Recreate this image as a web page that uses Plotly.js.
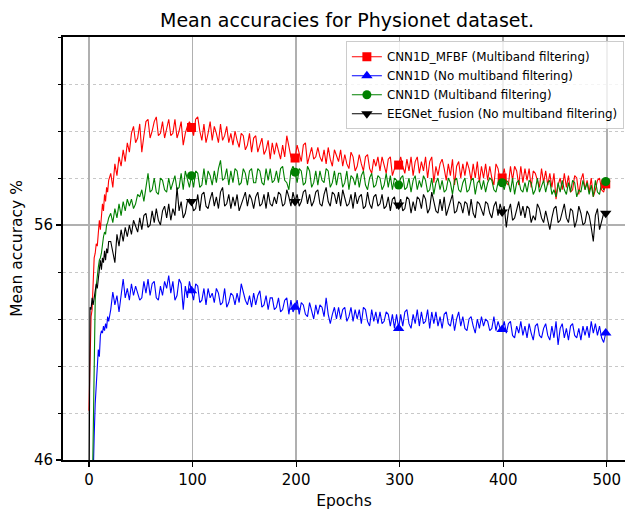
<!DOCTYPE html>
<html>
<head>
<meta charset="utf-8">
<script src="https://cdn.plot.ly/plotly-3.0.1.min.js"></script>
<style>
html,body{margin:0;padding:0;background:#fff;}
#chart{width:625px;height:510px;}
</style>
</head>
<body>
<div id="chart"></div>
<script>
// Epochs: every epoch for 0-19, then every second epoch 21..499
const epochs = [];
for (let e = 0; e < 20; e++) epochs.push(e);
for (let e = 21; e < 500; e += 2) epochs.push(e);

const markerEpochs = [99, 199, 299, 399, 499];

const seriesNames = [
  "CNN1D_MFBF (Multiband filtering)",
  "CNN1D (No multiband filtering)",
  "CNN1D (Multiband filtering)",
  "EEGNet_fusion (No multiband filtering)"
];

const cnn1dMfbf = [
  48.1, 50.6, 52.1, 52.4, 53.6, 54.6, 54.8, 55.2, 55.1, 55.8, 56.2, 55.8, 56.6, 56.9, 56.6, 57.3, 57.0, 57.6, 57.4, 57.9,
  58.2, 57.6, 58.6, 58.1, 58.9, 58.5, 59.2, 58.7, 59.5, 59.1,
  59.9, 60.2, 59.5, 59.7, 60.3, 59.1, 59.8, 60.4, 60.5, 59.7,
  60.0, 60.4, 60.6, 59.8, 59.9, 60.4, 59.7, 60.1, 60.5, 59.8,
  59.9, 60.5, 59.7, 60.0, 60.4, 59.4, 59.9, 60.2, 60.4, 60.15,
  59.8, 60.5, 60.6, 60.0, 59.6, 60.3, 59.5, 59.9, 60.4, 59.6,
  60.2, 59.9, 59.5, 60.3, 59.6, 59.8, 60.2, 59.5, 59.9, 59.4,
  60.0, 59.6, 59.3, 59.9, 59.8, 59.2, 59.4, 59.9, 59.1, 59.7,
  59.8, 59.1, 59.4, 59.7, 59.0, 59.2, 59.6, 58.8, 59.5, 59.0,
  59.5, 59.2, 58.8, 59.4, 58.9, 59.8, 59.3, 58.9, 58.7, 58.85,
  59.4, 59.0, 58.7, 59.4, 59.5, 58.6, 59.0, 59.3, 58.8, 58.9,
  59.3, 58.9, 58.7, 59.2, 58.6, 59.3, 58.8, 58.5, 59.2, 58.9,
  58.7, 59.2, 58.5, 59.0, 58.6, 58.4, 59.1, 58.9, 58.3, 58.5,
  59.0, 58.6, 58.3, 58.9, 59.0, 58.4, 58.2, 58.8, 58.5, 58.9,
  58.3, 58.9, 58.6, 58.2, 58.8, 58.9, 58.1, 58.4, 58.7, 58.55,
  58.9, 58.5, 58.2, 58.8, 58.3, 58.9, 58.1, 58.7, 58.9, 58.2,
  58.7, 58.3, 58.9, 58.0, 58.7, 58.9, 57.8, 58.5, 58.1, 58.6,
  58.8, 58.4, 57.9, 58.6, 58.1, 58.8, 57.7, 58.5, 58.7, 58.0,
  58.6, 58.1, 58.7, 58.4, 57.9, 58.6, 58.0, 58.7, 57.8, 58.5,
  58.0, 58.6, 57.9, 58.5, 58.0, 57.7, 58.6, 58.4, 57.9, 58.0,
  58.4, 57.8, 57.7, 58.5, 57.9, 58.5, 58.3, 57.7, 58.5, 57.8,
  58.4, 57.9, 58.4, 57.6, 58.3, 58.2, 57.9, 57.6, 58.4, 57.8,
  58.3, 57.7, 58.2, 57.6, 58.2, 57.1, 57.7, 58.0, 57.5, 58.2,
  57.6, 58.1, 57.4, 57.5, 58.1, 58.0, 57.3, 57.9, 58.2, 57.5,
  57.9, 57.4, 58.0, 57.2, 57.5, 57.9, 58.0, 57.5, 57.4, 57.75
];

const cnn1dNoMbf = [
  38.0, 40.0, 42.0, 44.0, 45.5, 47.0, 48.4, 49.3, 50.2, 50.7, 50.4, 51.3, 51.5, 51.4, 51.7, 51.5, 51.8, 51.6, 52.1, 51.9,
  52.4, 53.15, 52.6, 53.0, 52.3, 53.1, 53.7, 52.9, 53.3, 52.8,
  53.5, 53.0, 53.4, 53.1, 52.8, 52.9, 53.6, 53.1, 53.7, 53.0,
  53.5, 53.6, 52.9, 52.8, 53.4, 53.0, 53.6, 53.3, 53.85, 53.1,
  53.6, 52.8, 53.0, 53.7, 53.5, 52.4, 53.4, 52.9, 53.6, 53.2,
  52.8, 53.5, 53.4, 52.7, 52.8, 53.3, 52.6, 53.3, 52.9, 53.1,
  52.7, 53.3, 53.1, 52.6, 52.7, 53.3, 52.5, 52.7, 53.1, 53.0,
  52.6, 53.1, 52.7, 53.5, 53.1, 52.8, 52.6, 53.0, 52.5, 53.1,
  52.6, 53.0, 53.2, 52.5, 52.6, 53.0, 52.4, 52.9, 52.9, 52.4,
  52.5, 52.9, 52.3, 52.4, 52.8, 52.9, 52.2, 52.8, 52.3, 52.5,
  52.8, 52.2, 52.7, 52.6, 52.2, 52.1, 52.7, 52.3, 52.0, 52.6,
  52.2, 52.6, 52.5, 52.1, 52.9, 52.2, 51.8, 52.2, 52.5, 52.0,
  52.5, 52.0, 52.4, 52.5, 51.9, 52.1, 52.5, 51.9, 52.4, 52.0,
  52.4, 51.8, 52.5, 52.4, 51.9, 51.7, 52.4, 51.9, 52.3, 51.8,
  52.3, 51.8, 51.9, 52.3, 52.2, 51.7, 52.2, 51.6, 52.2, 51.6,
  52.2, 51.7, 52.3, 52.4, 51.8, 51.6, 52.2, 51.8, 52.4, 51.7,
  52.3, 51.8, 51.9, 52.4, 51.6, 52.3, 51.8, 52.3, 51.7, 52.1,
  51.6, 52.2, 52.3, 51.8, 51.7, 52.2, 51.5, 52.0, 52.3, 51.7,
  52.1, 51.6, 51.5, 52.0, 52.1, 51.7, 51.4, 52.0, 51.6, 52.1,
  51.7, 52.0, 51.9, 51.5, 51.6, 52.1, 51.5, 51.9, 51.6, 51.55,
  51.9, 51.4, 51.8, 51.9, 51.3, 51.2, 51.7, 51.4, 51.9, 51.3,
  51.7, 51.2, 51.8, 51.4, 51.1, 51.7, 51.8, 51.3, 51.2, 51.6,
  51.8, 51.3, 51.1, 51.7, 51.2, 51.9, 50.9, 51.6, 51.8, 51.2,
  51.6, 51.1, 51.7, 51.8, 51.3, 51.2, 51.6, 51.1, 51.7, 51.3,
  51.7, 51.2, 51.9, 51.4, 51.8, 51.3, 51.7, 51.2, 51.0, 51.4
];

const cnn1dMbf = [
  35.0, 38.0, 41.0, 43.5, 46.5, 50.5, 52.8, 53.4, 53.9, 54.2, 54.5, 54.6, 54.8, 55.3, 55.5, 55.7, 55.6, 56.0, 56.1, 56.3,
  56.5, 56.1, 56.7, 56.3, 56.9, 56.4, 57.0, 56.6, 57.1, 56.8,
  57.1, 56.7, 56.9, 57.3, 57.2, 57.5, 57.0, 57.6, 58.2, 57.4,
  57.5, 58.0, 57.4, 57.3, 58.0, 57.9, 57.5, 57.4, 58.0, 57.5,
  57.8, 58.1, 57.5, 57.6, 58.2, 57.5, 58.3, 57.9, 57.6, 58.1,
  57.6, 58.3, 58.2, 57.6, 57.7, 58.4, 57.7, 58.3, 58.1, 57.7,
  58.3, 57.8, 58.4, 58.75, 57.9, 58.0, 58.4, 57.7, 58.3, 57.8,
  58.4, 58.3, 57.7, 57.8, 58.4, 58.2, 57.7, 58.3, 58.4, 57.8,
  57.8, 58.4, 58.3, 57.8, 57.7, 58.4, 57.9, 58.4, 57.8, 57.9,
  58.3, 57.8, 58.4, 58.5, 57.9, 57.8, 57.5, 58.3, 58.5, 58.25,
  57.8, 58.4, 58.3, 57.7, 57.8, 58.5, 58.3, 57.6, 57.8, 58.3,
  57.7, 58.3, 57.9, 57.8, 58.4, 58.3, 57.6, 57.8, 58.3, 57.7,
  58.2, 58.2, 57.6, 57.8, 58.3, 57.5, 58.1, 58.0, 57.7, 58.2,
  57.6, 58.1, 58.3, 57.7, 57.5, 58.0, 58.2, 57.6, 57.7, 58.1,
  58.0, 57.5, 57.7, 58.2, 57.6, 58.1, 57.5, 58.0, 57.9, 57.7,
  58.0, 58.1, 57.5, 57.6, 58.0, 57.4, 57.9, 58.1, 57.5, 57.9,
  57.6, 58.1, 57.9, 57.4, 57.5, 58.0, 57.3, 57.8, 58.0, 57.5,
  57.9, 57.4, 57.5, 58.0, 57.8, 57.3, 57.9, 58.0, 57.5, 57.4,
  57.8, 58.0, 57.4, 57.5, 57.9, 58.0, 57.3, 57.8, 57.9, 57.5,
  57.9, 57.4, 57.8, 58.0, 57.9, 57.5, 57.4, 57.8, 58.0, 57.8,
  57.5, 57.9, 57.8, 57.4, 58.0, 57.3, 57.8, 57.9, 57.5, 57.4,
  57.8, 57.4, 57.9, 57.8, 57.3, 57.5, 58.0, 57.4, 57.7, 57.9,
  57.4, 57.8, 57.9, 57.3, 57.5, 57.2, 57.8, 57.4, 57.9, 57.5,
  57.3, 57.8, 57.4, 57.9, 57.8, 57.2, 57.5, 57.4, 57.9, 57.5,
  57.8, 57.3, 57.7, 57.2, 57.9, 57.4, 57.3, 57.8, 57.5, 57.85
];

const eegnetFusion = [
  44.0, 52.5, 52.4, 52.9, 52.6, 53.0, 53.2, 53.5, 53.3, 53.7, 54.2, 54.5, 54.1, 54.6, 54.4, 54.9, 54.5, 55.0, 54.8, 55.3,
  55.3, 54.9, 54.4, 55.6, 55.1, 55.8, 55.3, 55.9, 55.5, 56.0,
  55.6, 56.2, 55.9, 55.7, 56.3, 55.8, 56.4, 56.5, 55.9, 56.0,
  56.6, 56.1, 56.7, 56.2, 56.0, 56.6, 56.8, 56.3, 56.9, 56.2,
  56.7, 56.4, 57.6, 56.6, 57.0, 56.3, 56.5, 57.0, 57.1, 57.0,
  56.6, 56.7, 57.3, 56.6, 57.3, 57.4, 56.8, 56.7, 57.1, 57.4,
  56.8, 57.2, 56.7, 57.4, 57.6, 56.8, 56.9, 57.3, 56.7, 57.2,
  56.8, 57.3, 56.6, 56.9, 57.2, 57.4, 56.8, 57.3, 57.1, 56.7,
  57.2, 57.4, 56.8, 56.9, 57.3, 56.7, 57.4, 56.9, 56.8, 57.2,
  56.9, 57.4, 57.3, 56.8, 56.9, 57.5, 57.2, 56.8, 57.4, 57.0,
  57.3, 56.8, 57.0, 57.4, 57.5, 56.9, 57.3, 56.8, 57.0, 57.4,
  57.5, 56.9, 56.8, 57.3, 57.6, 57.0, 56.8, 57.4, 57.3, 56.9,
  57.4, 56.8, 57.5, 57.2, 56.8, 56.9, 57.3, 56.7, 57.4, 56.9,
  57.2, 57.3, 56.7, 56.8, 57.4, 56.9, 56.7, 57.2, 57.3, 56.8,
  56.9, 57.3, 56.7, 56.8, 57.2, 56.6, 57.1, 57.2, 56.7, 56.85,
  57.1, 56.6, 56.7, 57.2, 57.1, 56.5, 57.0, 56.6, 57.2, 57.1,
  56.7, 57.3, 57.1, 56.5, 56.7, 57.4, 57.0, 56.6, 56.5, 57.1,
  56.6, 57.2, 56.4, 56.7, 57.0, 57.3, 56.5, 56.6, 57.0, 56.9,
  56.5, 57.0, 56.9, 56.4, 57.1, 56.5, 56.3, 57.0, 56.9, 56.6,
  56.4, 57.0, 56.9, 56.5, 56.3, 56.8, 57.0, 56.4, 56.9, 56.55,
  56.8, 55.9, 56.6, 56.9, 56.2, 56.3, 56.7, 57.0, 56.4, 56.8,
  56.3, 56.8, 56.7, 56.1, 56.4, 56.2, 56.9, 56.7, 56.3, 56.1,
  56.6, 56.2, 55.8, 56.3, 56.7, 56.8, 56.1, 56.2, 56.6, 56.9,
  56.3, 56.1, 56.7, 56.6, 55.9, 56.2, 56.8, 56.5, 56.0, 56.1,
  56.6, 56.4, 55.9, 55.3, 56.4, 56.7, 55.8, 56.2, 56.5, 56.5
];

const seriesValues = [cnn1dMfbf, cnn1dNoMbf, cnn1dMbf, eegnetFusion];
const seriesColors = ["#ff0000", "#0000ff", "#008000", "#000000"];
const seriesSymbols = ["square", "triangle-up", "circle", "triangle-down"];
const symbolSizes = [9, 10, 9, 10];

const traces = [];
const FONT = "DejaVu Sans, Liberation Sans, sans-serif";

seriesValues.forEach((vals, i) => {
  traces.push({
    type: "scatter", mode: "lines", x: epochs, y: vals,
    line: {color: seriesColors[i], width: 1.1},
    showlegend: false, hoverinfo: "skip"
  });
});
seriesValues.forEach((vals, i) => {
  const mx = [], my = [];
  markerEpochs.forEach(e => { const k = epochs.indexOf(e); if (k >= 0) { mx.push(e); my.push(vals[k]); } });
  traces.push({
    type: "scatter", mode: "markers", x: mx, y: my,
    marker: {color: seriesColors[i], symbol: seriesSymbols[i], size: symbolSizes[i], line: {width: 0}},
    showlegend: false, hoverinfo: "skip"
  });
});
seriesValues.forEach((vals, i) => {
  traces.push({
    type: "scatter", mode: "lines+markers", x: [null], y: [null],
    name: seriesNames[i],
    line: {color: seriesColors[i], width: 1.1},
    marker: {color: seriesColors[i], symbol: seriesSymbols[i], size: symbolSizes[i], line: {width: 0}},
    showlegend: true
  });
});

const layout = {
  width: 625, height: 510,
  paper_bgcolor: "#ffffff", plot_bgcolor: "#ffffff",
  margin: {l: 63, r: 0, t: 37, b: 50, pad: 0},
  font: {family: FONT, color: "#000000", size: 15},
  title: {
    text: "Mean accuracies for Physionet dataset.",
    font: {family: FONT, size: 19, color: "#000000"},
    xref: "container", x: 347/625, xanchor: "center",
    yref: "container", y: 1 - 20/510, yanchor: "middle"
  },
  xaxis: {
    range: [-25.1, 517.6], tickvals: [0, 100, 200, 300, 400, 500],
    showgrid: true, gridcolor: "#b0b0b0", gridwidth: 1.6,
    zeroline: false, showline: true, linecolor: "#000000", linewidth: 2, mirror: true,
    ticks: "outside", ticklen: 5, tickwidth: 1.2, tickcolor: "#000000",
    tickfont: {family: FONT, size: 15, color: "#000000"},
    title: {text: "Epochs", font: {family: FONT, size: 15.5, color: "#000000"}, standoff: 7},
    automargin: false
  },
  yaxis: {
    range: [46, 64], tick0: 46, dtick: 10,
    showgrid: true, gridcolor: "#b0b0b0", gridwidth: 1.6,
    zeroline: false, showline: true, linecolor: "#000000", linewidth: 2, mirror: false,
    ticks: "outside", ticklen: 5, tickwidth: 1.2, tickcolor: "#000000",
    tickfont: {family: FONT, size: 15, color: "#000000"},
    minor: {tick0: 46, dtick: 2, showgrid: true, gridcolor: "#c8c8c8", griddash: "dot", gridwidth: 1,
            ticks: "outside", ticklen: 3, tickwidth: 1, tickcolor: "#000000"},
    title: {text: "Mean accuracy %", font: {family: FONT, size: 15.5, color: "#000000"}, standoff: 7},
    automargin: false
  },
  legend: {
    x: 0.998, xanchor: "right", y: 0.99, yanchor: "top",
    bgcolor: "rgba(255,255,255,0.8)", bordercolor: "#cccccc", borderwidth: 1,
    font: {family: FONT, size: 11.9, color: "#000000"},
    tracegroupgap: 0, itemwidth: 30
  },
  showlegend: true
};

Plotly.newPlot("chart", traces, layout, {displayModeBar: false, staticPlot: true});
</script>
</body>
</html>
